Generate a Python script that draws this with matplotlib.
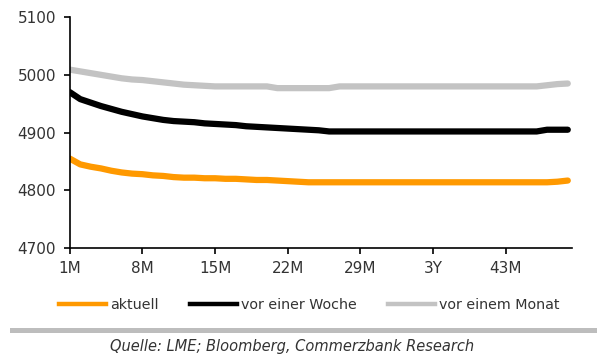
import matplotlib
matplotlib.use('Agg')
import matplotlib.pyplot as plt
from matplotlib.lines import Line2D
from matplotlib.patches import Rectangle
import numpy as np

plt.rcParams['font.family'] = ['DejaVu Sans']

# Laufzeiten in Monaten (1M ... 49M)
monate = np.arange(1, 50)

aktuell = [4855, 4845, 4841, 4838, 4834, 4831, 4829, 4828, 4826, 4825,
           4823, 4822, 4822, 4821, 4821, 4820, 4820, 4819, 4818, 4818,
           4817, 4816, 4815, 4814, 4814, 4814, 4814, 4814, 4814, 4814,
           4814, 4814, 4814, 4814, 4814, 4814, 4814, 4814, 4814, 4814,
           4814, 4814, 4814, 4814, 4814, 4814, 4814, 4815, 4817]
vor_woche = [4970, 4958, 4952, 4946, 4941, 4936, 4932, 4928, 4925, 4922,
             4920, 4919, 4918, 4916, 4915, 4914, 4913, 4911, 4910, 4909,
             4908, 4907, 4906, 4905, 4904, 4902, 4902, 4902, 4902, 4902,
             4902, 4902, 4902, 4902, 4902, 4902, 4902, 4902, 4902, 4902,
             4902, 4902, 4902, 4902, 4902, 4902, 4905, 4905, 4905]
vor_monat = [5009, 5006, 5003, 5000, 4997, 4994, 4992, 4991, 4989, 4987,
             4985, 4983, 4982, 4981, 4980, 4980, 4980, 4980, 4980, 4980,
             4977, 4977, 4977, 4977, 4977, 4977, 4980, 4980, 4980, 4980,
             4980, 4980, 4980, 4980, 4980, 4980, 4980, 4980, 4980, 4980,
             4980, 4980, 4980, 4980, 4980, 4980, 4982, 4984, 4985]

xticks = [1, 8, 15, 22, 29, 36, 43]
xlabels = ['1M', '8M', '15M', '22M', '29M', '3Y', '43M']
yticks = [4700, 4800, 4900, 5000, 5100]

c_or = '#ff9900'
c_bl = '#000000'
c_gr = '#c3c3c3'
c_txt = '#333333'

fig = plt.figure(figsize=(5.97, 3.56), dpi=100)
ax = fig.add_axes([0.117, 0.303, 0.841, 0.649])

lw = 4.5
ax.plot(monate, vor_monat, color=c_gr, lw=lw, solid_capstyle='round')
ax.plot(monate, vor_woche, color=c_bl, lw=lw, solid_capstyle='round')
ax.plot(monate, aktuell, color=c_or, lw=lw, solid_capstyle='round')

ax.set_xlim(1, 49.4)
ax.set_ylim(4700, 5100)
ax.set_xticks(xticks)
ax.set_xticklabels(xlabels)
ax.set_yticks(yticks)
for s in ['top', 'right']:
    ax.spines[s].set_visible(False)
for s in ['left', 'bottom']:
    ax.spines[s].set_linewidth(1.2)
ax.tick_params(direction='out', length=4, width=1.2, labelsize=11,
               labelcolor=c_txt)
ax.tick_params(axis='y', pad=6)
ax.tick_params(axis='x', pad=5)

# Legende unter dem Diagramm
handles = [Line2D([], [], color=c_or, lw=3.2),
           Line2D([], [], color=c_bl, lw=3.2),
           Line2D([], [], color=c_gr, lw=3.2)]
fig.legend(handles, ['aktuell', 'vor einer Woche', 'vor einem Monat'],
           loc='center', bbox_to_anchor=(0.518, 0.143), ncol=3, frameon=False,
           fontsize=10.3, handlelength=3.3, handletextpad=0.25,
           columnspacing=2.2, labelcolor=c_txt)

# grauer Trennbalken
fig.patches.append(Rectangle((10 / 597, 1 - 333 / 356), 587 / 597, 5 / 356,
                             transform=fig.transFigure, color='#bdbdbd',
                             lw=0))

fig.text(0.489, 1 - 347 / 356, 'Quelle: LME; Bloomberg, Commerzbank Research',
         ha='center', va='center', fontsize=10.5, style='italic',
         color=c_txt)

fig.savefig('out.png', dpi=100)
